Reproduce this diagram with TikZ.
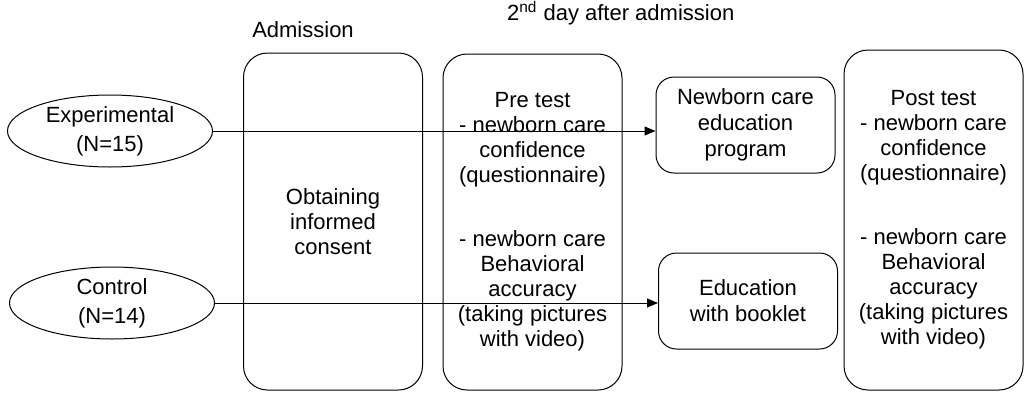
\documentclass[tikz,border=0pt]{standalone}
\usepackage{fontspec}
\setmainfont{Liberation Sans}
\usetikzlibrary{shapes.geometric, arrows.meta}

\begin{document}
\begin{tikzpicture}[x=0.5pt, y=-0.5pt,
    txt/.style={font=\fontsize{11}{12.5}\selectfont, align=center},
    phase/.style={txt, draw, line width=0.5pt, rounded corners=12pt, minimum width=89.5pt},
    edubox/.style={draw, line width=0.5pt, rounded corners=9pt, align=center,
        font=\fontsize{11}{13}\selectfont, minimum width=89.5pt, minimum height=48pt},
    group/.style={draw, ellipse, line width=0.5pt, align=center, inner sep=0pt,
        font=\fontsize{11}{14.5}\selectfont, minimum width=102.5pt, minimum height=36pt},
    flow/.style={line width=0.5pt, -{Triangle[length=5.5pt, width=4.5pt]}}]
    \useasboundingbox (0,0) rectangle (1024,392);

    \node[txt] (admlbl) at (303,30) {Admission};
    \node[txt, anchor=west] (daylbl) at (500,13) {2\textsuperscript{nd} day after admission};

    \node[group] (exp) at (110,131) {Experimental\\(N=15)};
    \node[group] (ctl) at (112,303) {Control\\(N=14)};

    \node[phase, minimum height=168.5pt] (adm) at (333,221.5) {Obtaining\\informed\\consent};
    \node[phase, minimum height=168pt] (pre) at (532.5,222)
        {Pre test\\- newborn care\\confidence\\(questionnaire)\\[19.5pt]- newborn care\\Behavioral\\accuracy\\(taking pictures\\with video)};
    \node[edubox] (prog) at (745.5,125) {Newborn care\\education\\program};
    \node[edubox] (book) at (748,301) {Education\\with booklet};
    \node[phase, minimum height=170pt] (post) at (933.5,220)
        {Post test\\- newborn care\\confidence\\(questionnaire)\\[19.5pt]- newborn care\\Behavioral\\accuracy\\(taking pictures\\with video)};

    \draw[flow] (exp.east) -- (exp.east -| prog.west);
    \draw[flow] (ctl.east) -- (ctl.east -| book.west);
\end{tikzpicture}
\end{document}
